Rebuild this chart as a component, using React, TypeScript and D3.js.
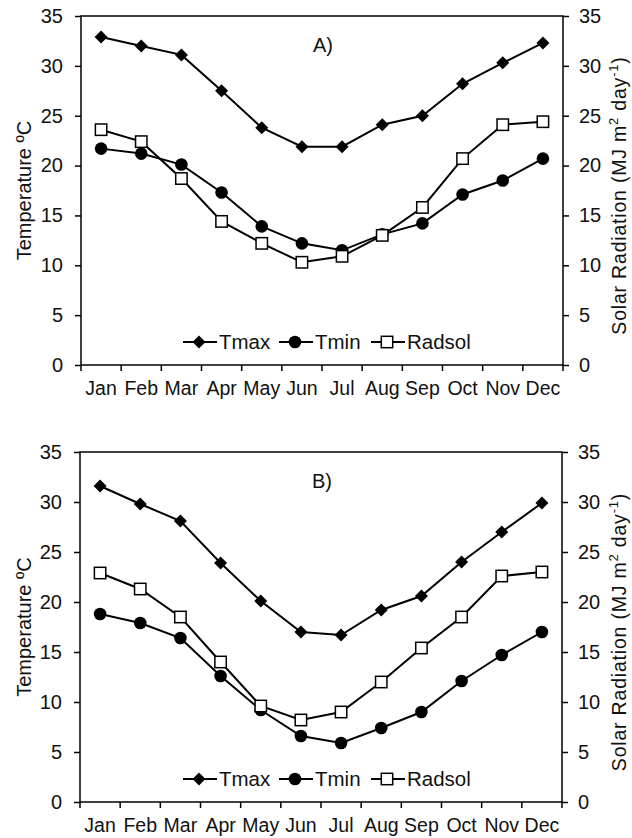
import { useEffect, useRef } from "react";
import * as d3 from "d3";

const months = ["Jan", "Feb", "Mar", "Apr", "May", "Jun", "Jul", "Aug", "Sep", "Oct", "Nov", "Dec"];
const yTicks = [0, 5, 10, 15, 20, 25, 30, 35];

// panel A
const tmaxA = [32.9, 32.0, 31.1, 27.5, 23.8, 21.9, 21.9, 24.1, 25.0, 28.2, 30.3, 32.3];
const tminA = [21.7, 21.2, 20.1, 17.3, 13.9, 12.2, 11.5, 13.1, 14.2, 17.1, 18.5, 20.7];
const radA = [23.6, 22.4, 18.7, 14.4, 12.2, 10.3, 10.9, 13.0, 15.8, 20.7, 24.1, 24.4];

// panel B
const tmaxB = [31.6, 29.8, 28.1, 23.9, 20.1, 17.0, 16.7, 19.2, 20.6, 24.0, 27.0, 29.9];
const tminB = [18.8, 17.9, 16.4, 12.6, 9.2, 6.6, 5.9, 7.4, 9.0, 12.1, 14.7, 17.0];
const radB = [22.9, 21.3, 18.5, 14.0, 9.6, 8.2, 9.0, 12.0, 15.4, 18.5, 22.6, 23.0];

const FONT = "'Liberation Sans', Arial, sans-serif";

const App = () => {
  const svgRef = useRef(null);

  useEffect(() => {
    if (!svgRef.current) return;
    const svg = d3.select(svgRef.current);
    svg.selectAll("*").remove();

    const drawMarker = (g: any, kind: string, cx: number, cy: number) => {
      if (kind === "diamond") {
        const s = 6.5;
        g.append("path")
          .attr("d", `M${cx},${cy - s}L${cx + s},${cy}L${cx},${cy + s}L${cx - s},${cy}Z`)
          .attr("fill", "#000");
      } else if (kind === "circle") {
        g.append("circle").attr("cx", cx).attr("cy", cy).attr("r", 6.3).attr("fill", "#000");
      } else {
        g.append("rect")
          .attr("x", cx - 5.7)
          .attr("y", cy - 5.7)
          .attr("width", 11.4)
          .attr("height", 11.4)
          .attr("fill", "#fff")
          .attr("stroke", "#000")
          .attr("stroke-width", 1.5);
      }
    };

    const drawPanel = (p: any) => {
      const g = svg.append("g");
      const x = d3.scaleBand().domain(months).range([p.left, p.right]);
      const y = d3.scaleLinear().domain([0, 35]).range([p.bottom, p.top]);
      const cx = (m: string) => (x(m) as number) + x.bandwidth() / 2;

      // frame
      g.append("rect")
        .attr("x", p.left)
        .attr("y", p.top)
        .attr("width", p.right - p.left)
        .attr("height", p.bottom - p.top)
        .attr("fill", "none")
        .attr("stroke", "#000")
        .attr("stroke-width", 1.5);

      // left axis
      const yl = g.append("g")
        .attr("transform", `translate(${p.left},0)`)
        .call(d3.axisLeft(y).tickValues(yTicks).tickSize(6).tickPadding(12));
      // right axis
      const yr = g.append("g")
        .attr("transform", `translate(${p.right},0)`)
        .call(d3.axisRight(y).tickValues(yTicks).tickSize(6).tickPadding(10));
      // bottom labels
      const xb = g.append("g")
        .attr("transform", `translate(0,${p.bottom})`)
        .call(d3.axisBottom(x).tickSize(0).tickPadding(16));
      [yl, yr, xb].forEach((a) => {
        a.select(".domain").remove();
        a.selectAll("line").attr("stroke", "#000").attr("stroke-width", 1.5);
        a.selectAll("text")
          .attr("fill", "#111")
          .style("font-family", FONT)
          .style("font-size", "20px");
      });
      xb.selectAll("text").style("font-size", "19.5px");

      // boundary ticks on x axis
      const bounds = months.map((m) => x(m) as number).concat([p.right]);
      g.selectAll(".xt")
        .data(bounds)
        .enter()
        .append("line")
        .attr("x1", (d) => d)
        .attr("x2", (d) => d)
        .attr("y1", p.bottom)
        .attr("y2", p.bottom + 6)
        .attr("stroke", "#000")
        .attr("stroke-width", 1.5);

      const line = d3
        .line<number>()
        .x((_d, i) => cx(months[i]))
        .y((d) => y(d));

      const series = [
        { vals: p.tmax, kind: "diamond" },
        { vals: p.tmin, kind: "circle" },
        { vals: p.rad, kind: "square" },
      ];
      series.forEach((s) => {
        g.append("path")
          .datum(s.vals)
          .attr("fill", "none")
          .attr("stroke", "#000")
          .attr("stroke-width", 2)
          .attr("d", line);
      });
      series.forEach((s) => {
        s.vals.forEach((v: number, i: number) => drawMarker(g, s.kind, cx(months[i]), y(v)));
      });

      // panel title
      g.append("text")
        .attr("x", p.left + 232)
        .attr("y", p.top + 36)
        .style("font-family", FONT)
        .style("font-size", "20px")
        .attr("fill", "#111")
        .text(p.title);

      // legend
      const ly = p.bottom - 23;
      const items = [
        { name: "Tmax", kind: "diamond", x0: 183 },
        { name: "Tmin", kind: "circle", x0: 279 },
        { name: "Radsol", kind: "square", x0: 371 },
      ];
      items.forEach((it) => {
        g.append("line")
          .attr("x1", it.x0)
          .attr("x2", it.x0 + 34)
          .attr("y1", ly)
          .attr("y2", ly)
          .attr("stroke", "#000")
          .attr("stroke-width", 2);
        drawMarker(g, it.kind, it.x0 + 16, ly);
        g.append("text")
          .attr("x", it.x0 + 36)
          .attr("y", ly + 7)
          .style("font-family", FONT)
          .style("font-size", "20.5px")
          .attr("fill", "#111")
          .text(it.name);
      });

      // axis titles
      const mid = (p.top + p.bottom) / 2;
      g.append("text")
        .attr("transform", `translate(31,${mid}) rotate(-90)`)
        .attr("text-anchor", "middle")
        .style("font-family", FONT)
        .style("font-size", "20px")
        .attr("fill", "#111")
        .text("Temperature ºC");

      const rt = g.append("text")
        .attr("transform", `translate(626,${mid + 5}) rotate(-90)`)
        .attr("text-anchor", "middle")
        .style("font-family", FONT)
        .style("font-size", "19.5px")
        .style("letter-spacing", "0.8px")
        .attr("fill", "#111");
      rt.append("tspan").text("Solar Radiation (MJ m");
      rt.append("tspan").attr("dy", -8).style("font-size", "13px").text("2");
      rt.append("tspan").attr("dy", 8).text(" day");
      rt.append("tspan").attr("dy", -8).style("font-size", "13px").text("-1");
      rt.append("tspan").attr("dy", 8).text(")");
    };

    drawPanel({ left: 81, right: 563, top: 16, bottom: 365, title: "A)", tmax: tmaxA, tmin: tminA, rad: radA });
    drawPanel({ left: 80, right: 562, top: 452, bottom: 802, title: "B)", tmax: tmaxB, tmin: tminB, rad: radB });
  }, []);

  return (
    <svg
      ref={svgRef}
      width={632}
      height={838}
      style={{ position: "absolute", left: 0, top: 0, background: "#fff" }}
    />
  );
};

export default App;
